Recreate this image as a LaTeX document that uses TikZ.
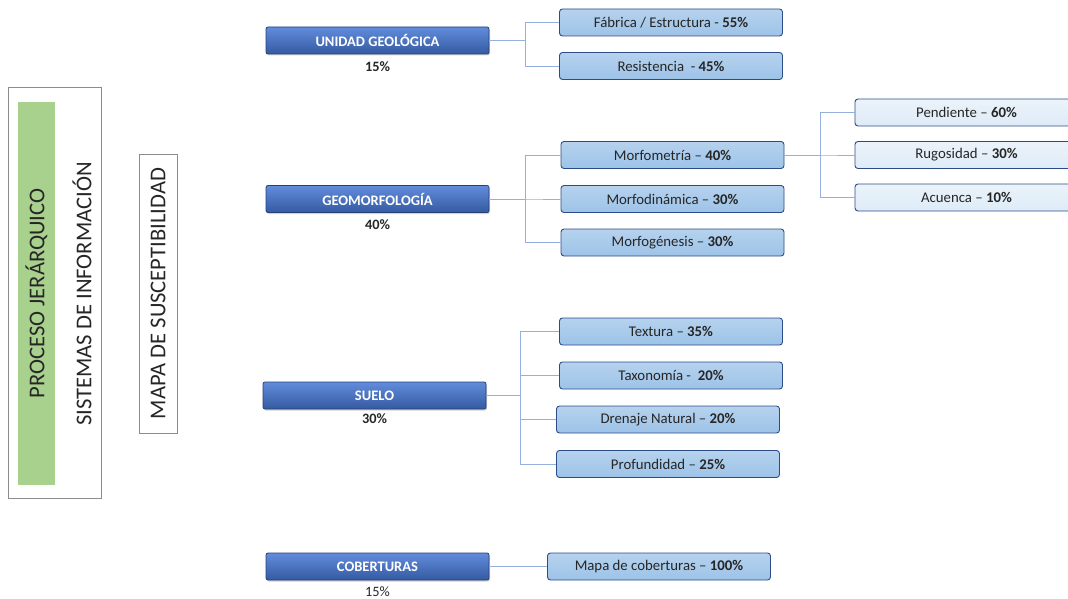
\documentclass[tikz,border=0pt]{standalone}
\usepackage{fontspec}
\setmainfont{Carlito}
\usetikzlibrary{positioning,shadows}
\definecolor{catBlue}{RGB}{70,120,214}
\definecolor{catDark}{RGB}{36,64,120}
\definecolor{subFill}{RGB}{157,195,232}
\definecolor{leafFill}{RGB}{222,235,247}
\definecolor{edgeBlue}{RGB}{44,76,136}
\definecolor{lineBlue}{RGB}{150,176,222}
\definecolor{barGreen}{RGB}{169,209,142}
\definecolor{frameGray}{RGB}{140,140,140}
\definecolor{txtDark}{RGB}{38,38,38}

\begin{document}
\begin{tikzpicture}[x=1pt,y=-1pt,
    catbox/.style={draw=catDark, line width=0.8pt, rounded corners=2pt, top color=catBlue!85!white, middle color=catBlue, bottom color=catBlue!75!black,
      drop shadow={opacity=0.35, shadow xshift=1pt, shadow yshift=-1.5pt},
      minimum width=223pt, minimum height=27pt, text=white, font=\fontsize{14.5}{17}\selectfont\bfseries},
    subbox/.style={draw=edgeBlue, rounded corners=3pt, line width=0.9pt, top color=subFill!75!white, bottom color=subFill,
      minimum width=223pt, minimum height=27pt, text=txtDark, font=\fontsize{14.8}{17}\selectfont},
    leafbox/.style={subbox, top color=leafFill!60!white, bottom color=leafFill},
    pct/.style={inner sep=1pt, text=txtDark, font=\fontsize{14.3}{16}\selectfont\bfseries},
    link/.style={draw=lineBlue, line width=0.9pt},
    vtext/.style={rotate=90, text=txtDark, font=\fontsize{22.6}{24}\selectfont}
  ]
  \clip (0,0) rectangle (1068,599);

  % left column
  \node[draw=frameGray, minimum width=93pt, minimum height=411pt] (frame) at (54.5,292.5) {};
  \node[vtext, fill=barGreen, minimum width=383pt, minimum height=37pt] (ahp) at (36.5,293.5) {PROCESO JERÁRQUICO};
  \node[vtext] (sig) at (82,294) {SISTEMAS DE INFORMACIÓN};
  \node[vtext, draw=frameGray, minimum width=279pt, minimum height=38pt] (mapa) at (158,293.5) {MAPA DE SUSCEPTIBILIDAD};

  % categories
  \node[catbox] (ug) at (377.5,40.5) {UNIDAD GEOLÓGICA};
  \node[pct,below=6pt of ug] (ugp) {15\%};
  \node[catbox] (geo) at (377.5,199) {GEOMORFOLOGÍA};
  \node[pct,below=6pt of geo] (geop) {40\%};
  \node[catbox] (sue) at (374.5,395.5) {SUELO};
  \node[pct,below=3pt of sue] (suep) {30\%};
  \node[catbox] (cob) at (377.5,566.5) {COBERTURAS};
  \node[pct,below=5pt of cob,font=\fontsize{14.3}{16}\selectfont] (cobp) {15\%};

  % factors
  \node[subbox] (fab) at (671,22.5) {Fábrica / Estructura - \textbf{55\%}};
  \node[subbox] (res) at (671,66) {Resistencia\ \ - \textbf{45\%}};
  \node[subbox] (mfm) at (672.5,155) {Morfometría – \textbf{40\%}};
  \node[subbox] (mfd) at (672.5,199) {Morfodinámica – \textbf{30\%}};
  \node[subbox] (mfg) at (672.5,242.5) {Morfogénesis – \textbf{30\%}};
  \node[leafbox] (pen) at (966.5,112.5) {Pendiente – \textbf{60\%}};
  \node[leafbox] (rug) at (966.5,155) {Rugosidad – \textbf{30\%}};
  \node[leafbox] (acu) at (966.5,197.5) {Acuenca – \textbf{10\%}};
  \node[subbox] (tex) at (671,331.5) {Textura – \textbf{35\%}};
  \node[subbox] (tax) at (671,375.5) {Taxonomía -\ \ \textbf{20\%}};
  \node[subbox] (dre) at (668,419.5) {Drenaje Natural – \textbf{20\%}};
  \node[subbox] (pro) at (668,464) {Profundidad – \textbf{25\%}};
  \node[subbox] (mcob) at (659,566.5) {Mapa de coberturas – \textbf{100\%}};

  % connectors
  \foreach \n in {fab,res}
    \draw[link] (ug.east) -- ++(36pt,0) |- (\n.west);
  \foreach \n in {mfm,mfd,mfg}
    \draw[link] (geo.east) -- ++(36pt,0) |- (\n.west);
  \foreach \n in {pen,rug,acu}
    \draw[link] (mfm.east) -- ++(36pt,0) |- (\n.west);
  \foreach \n in {tex,tax,dre,pro}
    \draw[link] (sue.east) -- ++(34pt,0) |- (\n.west);
  \draw[link] (cob) -- (mcob);
\end{tikzpicture}
\end{document}
